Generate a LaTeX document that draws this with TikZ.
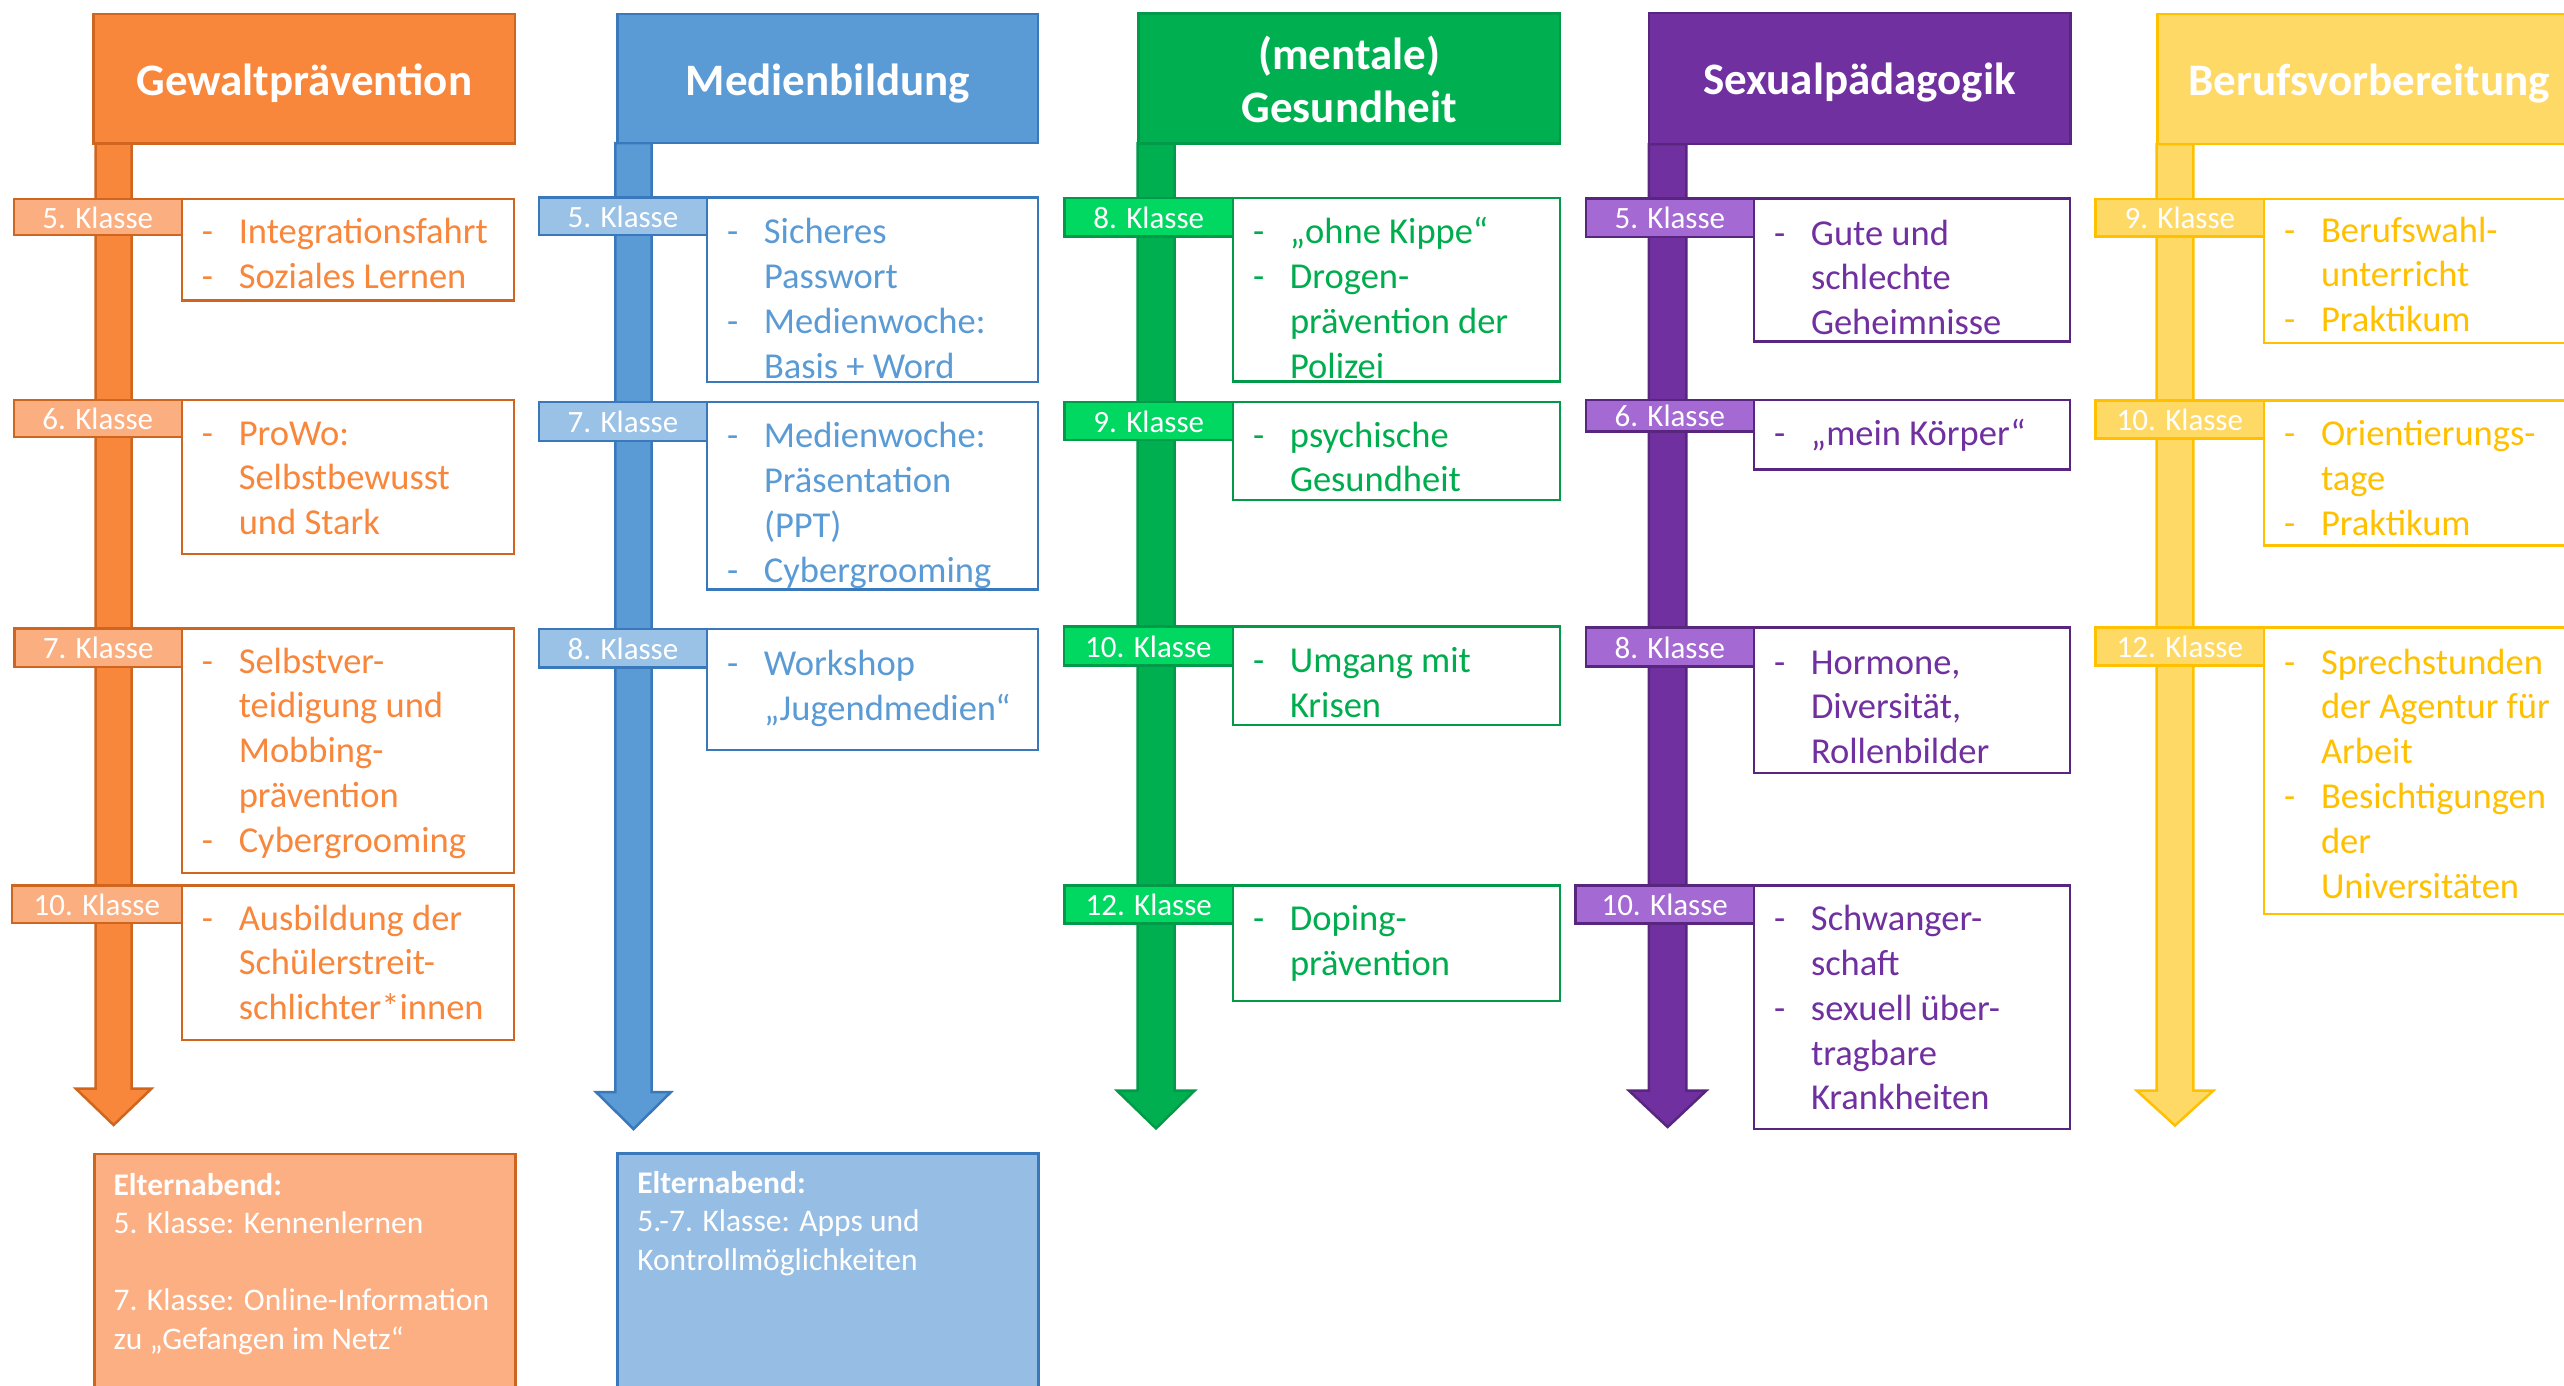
\documentclass[tikz,border=0pt]{standalone}
\usepackage{fontspec}
\setmainfont{Carlito}
\definecolor{oF}{HTML}{F8863B}
\definecolor{oD}{HTML}{CF661F}
\definecolor{oL}{HTML}{FBAF80}
\definecolor{oT}{HTML}{F8863B}
\definecolor{bF}{HTML}{5B9BD5}
\definecolor{bD}{HTML}{3A78BC}
\definecolor{bL}{HTML}{9AC2E7}
\definecolor{bT}{HTML}{5B9BD5}
\definecolor{bE}{HTML}{96BDE3}
\definecolor{gF}{HTML}{00B050}
\definecolor{gD}{HTML}{009A48}
\definecolor{gL}{HTML}{00D862}
\definecolor{gT}{HTML}{00AD4E}
\definecolor{pF}{HTML}{7030A0}
\definecolor{pD}{HTML}{58267F}
\definecolor{pL}{HTML}{A469D2}
\definecolor{pT}{HTML}{7030A0}
\definecolor{yF}{HTML}{FFD966}
\definecolor{yD}{HTML}{FFC000}
\definecolor{yL}{HTML}{FFD966}
\definecolor{yT}{HTML}{FFC000}
\definecolor{oE}{HTML}{FBAF82}
\newcommand\itdash{\makebox[37pt][l]{-}}
\newcommand\itind{\hspace*{37pt}}
\newcommand\rectnode[6]{\node[#2, minimum width={(#5)-(#3)}, minimum height={(#6)-(#4)}, anchor=north west] (#1) at (#3,#4) {};}
\newcommand\klasse[7]{\node[lab=#2, minimum width={(#5)-(#3)}, minimum height={(#6)-(#4)}, anchor=north west] (#1) at (#3,#4) {#7};}
\newcommand\items[4]{\node[itm=#2] (#1) at (#3) {\begin{tabular}[t]{@{}l@{}}#4\end{tabular}};}
\tikzset{
  every node/.style={inner sep=0pt, outer sep=0pt},
  hdr/.style={rectangle, draw=#1D, fill=#1F, line width=2.5pt},
  cbox/.style={rectangle, draw=#1D, fill=white, line width=2.5pt},
  lab/.style={rectangle, draw=#1D, fill=#1L, line width=2.5pt, text=white,
    font=\fontsize{31}{37}\selectfont, text height=22pt, text depth=0pt},
  htxt/.style={anchor=base, text=white, font=\fontsize{45}{53}\selectfont\bfseries},
  itm/.style={anchor=base west, text=#1T, font=\fontsize{36.5}{44.8}\selectfont},
  arr/.style={draw=#1D, fill=#1F, line width=2.5pt, line join=miter},
  eltern/.style={anchor=base west, text=white, font=\fontsize{31.5}{38.5}\selectfont},
}
\begin{document}
\begin{tikzpicture}[x=1pt, y=-1pt]
\useasboundingbox (0,0) rectangle (2564,1385);
\clip (0,0) rectangle (2564,1385);
\fill[white] (0,0) rectangle (2564,1385);

% ---------------- Gewaltpraevention ----------------
\draw[arr=o] (95.7,143.5) -- (95.7,1088.6) -- (75.8,1088.6) -- (113.6,1125)
  -- (151.5,1088.6) -- (131.5,1088.6) -- (131.5,143.5) -- cycle;
\rectnode{oh}{hdr=o}{93.7}{14}{514.8}{143.5}
\node[htxt] (oht) at (304.3,95) {Gewaltprävention};
\klasse{o5}{o}{13.8}{199}{181.8}{235}{5. Klasse}
\rectnode{o5c}{cbox=o}{181.8}{199}{514}{300.7}
\items{o5t}{o}{201.8,243.5}{\itdash Integrationsfahrt\\ \itdash Soziales Lernen}
\klasse{o6}{o}{13.8}{400}{181.8}{437}{6. Klasse}
\rectnode{o6c}{cbox=o}{181.8}{400}{514}{554}
\items{o6t}{o}{201.8,445}{\itdash ProWo:\\ \itind Selbstbewusst\\ \itind und Stark}
\klasse{o7}{o}{14.5}{628.6}{181.8}{666.8}{7. Klasse}
\rectnode{o7c}{cbox=o}{181.8}{628.6}{514}{873}
\items{o7t}{o}{201.8,673}{\itdash Selbstver-\\ \itind teidigung und\\ \itind Mobbing-\\ \itind prävention\\ \itdash Cybergrooming}
\klasse{o10}{o}{12}{885.7}{181.8}{923}{10. Klasse}
\rectnode{o10c}{cbox=o}{181.8}{885.7}{514}{1040}
\items{o10t}{o}{201.8,930}{\itdash Ausbildung der\\ \itind Schülerstreit-\\ \itind schlichter*innen}
\node[rectangle, draw=oD, fill=oE, line width=2.5pt, minimum width=421pt, minimum height=260pt, anchor=north west] (oel) at (94.7,1154) {};
\node[eltern] (oelt) at (113.6,1195) {\begin{tabular}[t]{@{}l@{}}\textbf{Elternabend:}\\5. Klasse: Kennenlernen\\ \\7. Klasse: Online-Information\\zu „Gefangen im Netz“\end{tabular}};

% ---------------- Medienbildung ----------------
\draw[arr=b] (615.4,143) -- (615.4,1092) -- (596,1092) -- (633.5,1129)
  -- (671,1092) -- (651.5,1092) -- (651.5,143) -- cycle;
\rectnode{bh}{hdr=b}{617.5}{14}{1038}{143}
\node[htxt] (bht) at (827.8,95) {Medienbildung};
\klasse{b5}{b}{539}{197.5}{707}{234.8}{5. Klasse}
\rectnode{b5c}{cbox=b}{707}{197.5}{1038}{382}
\items{b5t}{b}{727,243.8}{\itdash Sicheres\\ \itind Passwort\\ \itdash Medienwoche:\\ \itind Basis + Word}
\klasse{b7}{b}{539}{402}{707}{440.8}{7. Klasse}
\rectnode{b7c}{cbox=b}{707}{402}{1038}{589.6}
\items{b7t}{b}{727,447.8}{\itdash Medienwoche:\\ \itind Präsentation\\ \itind (PPT)\\ \itdash Cybergrooming}
\klasse{b8}{b}{539}{629}{707}{667.7}{8. Klasse}
\rectnode{b8c}{cbox=b}{707}{629}{1038}{749.8}
\items{b8t}{b}{727,675.6}{\itdash Workshop\\ \itind „Jugendmedien“}
\node[rectangle, draw=bD, fill=bE, line width=2.5pt, minimum width=421pt, minimum height=260pt, anchor=north west] (bel) at (617.3,1153.3) {};
\node[eltern] (belt) at (637.3,1193.3) {\begin{tabular}[t]{@{}l@{}}\textbf{Elternabend:}\\5.-7. Klasse: Apps und\\Kontrollmöglichkeiten\end{tabular}};

% ---------------- (mentale) Gesundheit ----------------
\draw[arr=g] (1137.5,143.3) -- (1137.5,1090.6) -- (1117,1090.6) -- (1156,1128.4)
  -- (1194.6,1090.6) -- (1174.5,1090.6) -- (1174.5,143.3) -- cycle;
\rectnode{gh}{hdr=g}{1138.5}{13.3}{1560}{143.3}
\node[htxt] (ght) at (1349.2,69) {\begin{tabular}[t]{@{}c@{}}(mentale)\\Gesundheit\end{tabular}};
\klasse{g8}{g}{1064.5}{198}{1233}{236.5}{8. Klasse}
\rectnode{g8c}{cbox=g}{1233}{198}{1560}{381.7}
\items{g8t}{g}{1253,243.6}{\itdash „ohne Kippe“\\ \itdash Drogen-\\ \itind prävention der\\ \itind Polizei}
\klasse{g9}{g}{1064.5}{402}{1233}{440}{9. Klasse}
\rectnode{g9c}{cbox=g}{1233}{402}{1560}{500}
\items{g9t}{g}{1253,447}{\itdash psychische\\ \itind Gesundheit}
\klasse{g10}{g}{1063.8}{626.7}{1233}{665.3}{10. Klasse}
\rectnode{g10c}{cbox=g}{1233}{626.7}{1560}{725}
\items{g10t}{g}{1253,672.5}{\itdash Umgang mit\\ \itind Krisen}
\klasse{g12}{g}{1064.5}{885.6}{1233}{923.4}{12. Klasse}
\rectnode{g12c}{cbox=g}{1233}{885.6}{1560}{1001}
\items{g12t}{g}{1253,930.6}{\itdash Doping-\\ \itind prävention}

% ---------------- Sexualpaedagogik ----------------
\draw[arr=p] (1648.8,144) -- (1648.8,1090.6) -- (1628.9,1090.6) -- (1667.6,1127)
  -- (1706.3,1090.6) -- (1686.4,1090.6) -- (1686.4,144) -- cycle;
\rectnode{ph}{hdr=p}{1648.8}{13}{2070.3}{144}
\node[htxt] (pht) at (1859.5,94.5) {Sexualpädagogik};
\klasse{p5}{p}{1585.8}{198.5}{1753.9}{237}{5. Klasse}
\rectnode{p5c}{cbox=p}{1753.9}{198.5}{2070}{341.7}
\items{p5t}{p}{1774,245}{\itdash Gute und\\ \itind schlechte\\ \itind Geheimnisse}
\klasse{p6}{p}{1585.8}{400}{1753.9}{431.7}{6. Klasse}
\rectnode{p6c}{cbox=p}{1753.9}{400}{2070}{469.3}
\items{p6t}{p}{1774,445.7}{\itdash „mein Körper“}
\klasse{p8}{p}{1585.8}{627.5}{1753.9}{666.7}{8. Klasse}
\rectnode{p8c}{cbox=p}{1753.9}{627.5}{2070}{773}
\items{p8t}{p}{1774,674}{\itdash Hormone,\\ \itind Diversität,\\ \itind Rollenbilder}
\klasse{p10}{p}{1575.5}{885.6}{1753.9}{923.4}{10. Klasse}
\rectnode{p10c}{cbox=p}{1753.9}{885.6}{2070}{1129}
\items{p10t}{p}{1774,930.6}{\itdash Schwanger-\\ \itind schaft\\ \itdash sexuell über-\\ \itind tragbare\\ \itind Krankheiten}

% ---------------- Berufsvorbereitung ----------------
\draw[arr=y] (2156.7,144) -- (2156.7,1090.6) -- (2136.7,1090.6) -- (2175,1125.5)
  -- (2213.3,1090.6) -- (2193.3,1090.6) -- (2193.3,144) -- cycle;
\rectnode{yh}{hdr=y}{2157.7}{14}{2580}{144}
\node[htxt] (yht) at (2368.9,95) {Berufsvorbereitung};
\klasse{y9}{y}{2095.7}{199}{2264}{236.7}{9. Klasse}
\rectnode{y9c}{cbox=y}{2264}{199}{2580}{343}
\items{y9t}{y}{2284,242}{\itdash Berufswahl-\\ \itind unterricht\\ \itdash Praktikum}
\klasse{y10}{y}{2095.7}{400.6}{2264}{438.4}{10. Klasse}
\rectnode{y10c}{cbox=y}{2264}{400.6}{2580}{545.3}
\items{y10t}{y}{2284,445.7}{\itdash Orientierungs-\\ \itind tage\\ \itdash Praktikum}
\klasse{y12}{y}{2095.7}{627.5}{2264}{665.3}{12. Klasse}
\rectnode{y12c}{cbox=y}{2264}{627.5}{2580}{914}
\items{y12t}{y}{2284,674}{\itdash Sprechstunden\\ \itind der Agentur für\\ \itind Arbeit\\ \itdash Besichtigungen\\ \itind der\\ \itind Universitäten}
\end{tikzpicture}
\end{document}
